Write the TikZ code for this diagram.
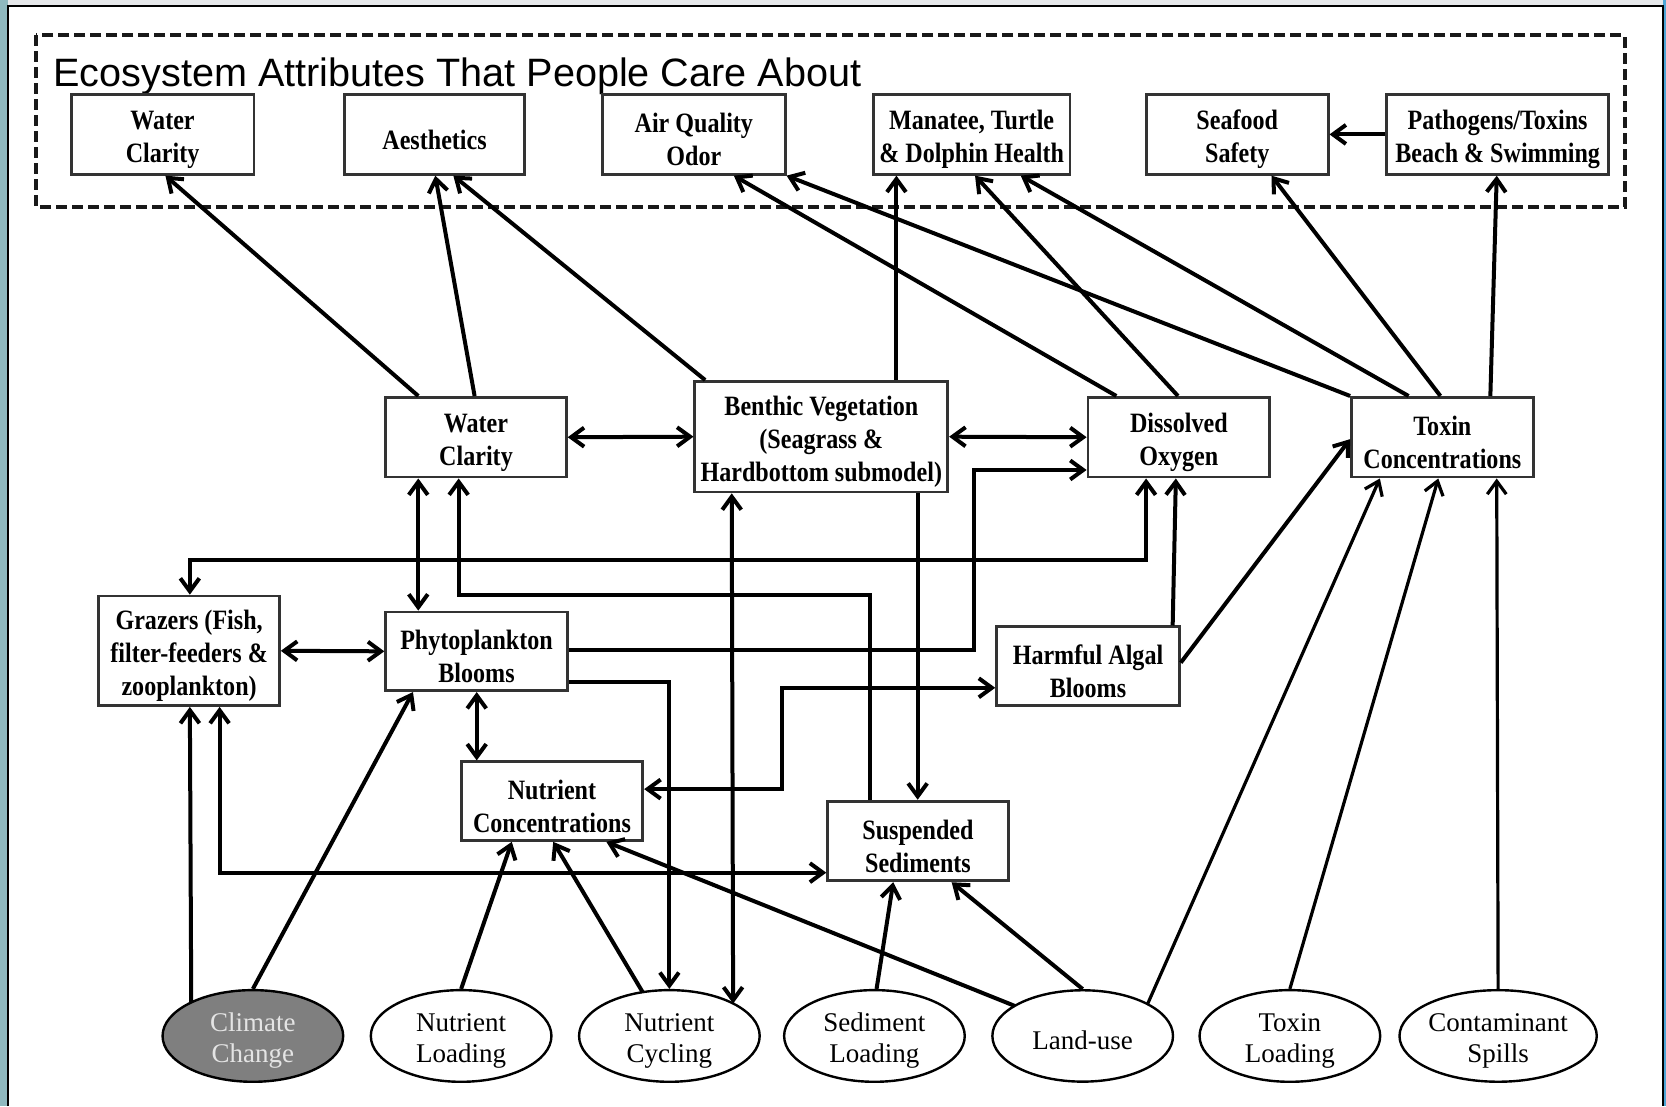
\documentclass[tikz,border=0pt]{standalone}
\usepackage{fontspec}
\setmainfont{Liberation Serif}
\newfontfamily\boxfont[FakeStretch=0.86]{Liberation Serif}
\newfontfamily\titlefont{Liberation Sans}
\usetikzlibrary{shapes.geometric,arrows.meta,calc}
\newcommand\uu{0.53125pt}
\newcommand\mybox[6]{\node[attrbox, minimum width={(#4-#2)*\uu}, minimum height={(#5-#3)*\uu}] (#1) at ({(#2+#4)/2},{(#3+#5)/2}) {\rule{0pt}{15pt}#6};}
\newcommand\myell[4]{\node[ell,#4] (#1) at (#2,975) {\rule{0pt}{14pt}#3};}
\definecolor{boxline}{HTML}{333333}
\definecolor{leftstrip}{HTML}{8FB9BF}
\definecolor{rightstrip}{HTML}{4FA6D6}
\definecolor{topstrip}{HTML}{E6E8EA}
\definecolor{climfill}{HTML}{7F7F7F}
\definecolor{climtext}{HTML}{E4E4E4}
\tikzset{
  attrbox/.style={draw=boxline, line width=1.4pt, fill=white, inner sep=1pt, align=center,
    font=\boxfont\bfseries\fontsize{14}{16.5}\selectfont},
  ell/.style={ellipse, draw=black, line width=1.2pt, fill=white, inner sep=0pt, align=center,
    minimum width={170*\uu}, minimum height={86*\uu},
    font=\fontsize{13.5}{15.5}\selectfont},
  conn/.style={line width=2pt, line join=miter},
  thinconn/.style={line width=1.6pt},
  >={Straight Barb[length=6.5pt,width=9.5pt]}
}
\begin{document}
\begin{tikzpicture}[x=\uu, y=-\uu]
\useasboundingbox (0,0) rectangle (1568,1041);
% background
\fill[topstrip] (0,0) rectangle (1568,6);
\fill[leftstrip] (0,0) rectangle (7.5,1041);
\fill[rightstrip] (1565,0) rectangle (1568,1041);
\fill[white] (7.5,5.6) rectangle (1565,1041);
\draw[line width=1.3pt] (7.5,1041) -- (7.5,5.6) -- (1565,5.6) -- (1565,1041);
% attributes frame
\draw[line width=2pt, dash pattern=on 5.5pt off 2.5pt, draw=black!90] (34,33) rectangle (1529,195);
\node[anchor=base west, inner sep=0pt, font=\titlefont\fontsize{19.8}{24}\selectfont] (title) at (50,81) {Ecosystem Attributes That People Care About};
% top boxes
\mybox{t1}{67}{89}{239}{164}{Water\\Clarity}
\mybox{t2}{324}{89}{494}{164}{Aesthetics}
\mybox{t3}{567}{89}{739}{164}{Air Quality\\Odor}
\mybox{t4}{822}{89}{1007}{164}{Manatee, Turtle\\\& Dolphin Health}
\mybox{t5}{1079}{89}{1250}{164}{Seafood\\Safety}
\mybox{t6}{1305}{89}{1514}{164}{Pathogens/Toxins\\Beach \& Swimming}
% middle boxes
\mybox{m1}{363}{374}{533}{449}{Water\\Clarity}
\mybox{m2}{654}{359}{892}{463}{Benthic Vegetation\\(Seagrass \&\\Hardbottom submodel)}
\mybox{m3}{1024}{374}{1195}{449}{Dissolved\\Oxygen}
\mybox{m4}{1272}{374}{1443}{449}{Toxin\\Concentrations}
% lower boxes
\mybox{g}{93}{561}{263}{664}{Grazers (Fish,\\filter-feeders \&\\zooplankton)}
\mybox{p}{363}{576}{534}{650}{Phytoplankton\\Blooms}
\mybox{h}{938}{590}{1110}{664}{Harmful Algal\\Blooms}
\mybox{n}{434}{717}{605}{791}{Nutrient\\Concentrations}
\mybox{s}{779}{754}{949}{829}{Suspended\\Sediments}
% drivers
\myell{e1}{238}{Climate\\Change}{fill=climfill, text=climtext}
\myell{e2}{434}{Nutrient\\Loading}{}
\myell{e3}{630}{Nutrient\\Cycling}{}
\myell{e4}{823}{Sediment\\Loading}{}
\myell{e5}{1019}{Land-use}{}
\myell{e6}{1214}{Toxin\\Loading}{}
\myell{e7}{1410}{Contaminant\\Spills}{}
% connectors to attributes
\draw[conn,->] ($(m1.north west)+(32,0)$) -- ($(t1.south west)+(90,0)$);
\draw[conn,->] ($(m1.north west)+(85,0)$) -- ($(t2.south west)+(87,0)$);
\draw[conn,->] ($(m2.north west)+(11,0)$) -- ($(t2.south west)+(104,0)$);
\draw[conn,->] ($(m3.north west)+(28,0)$) -- ($(t3.south west)+(125,0)$);
\draw[conn,->] (m4.north west) -- (t3.south east);
\draw[conn,->] ($(m2.north west)+(191,0)$) -- ($(t4.south west)+(23,0)$);
\draw[conn,->] ($(m3.north west)+(86,0)$) -- ($(t4.south west)+(97,0)$);
\draw[conn,->] ($(m4.north west)+(55,0)$) -- ($(t4.south west)+(140,0)$);
\draw[conn,->] ($(m4.north west)+(85,0)$) -- ($(t5.south west)+(119,0)$);
\draw[conn,->] ($(m4.north west)+(132,0)$) -- ($(t6.south west)+(105,0)$);
\draw[conn,->] (t6.west) -- (t5.east);
% middle links
\draw[conn,<->] (m1.east) -- (m2.west);
\draw[conn,<->] (m2.east) -- (m3.west);
\draw[conn,->] ($(p.north east)+(0,37)$) -| ($(m3.south west)+(-106,-8)$) -- ($(m3.south west)+(0,-8)$);
\draw[conn,<->] ($(m1.south west)+(32,0)$) -- ($(p.north west)+(32,0)$);
\draw[conn,->] ($(s.north west)+(41,0)$) |- ($(m1.south west)+(70,110)$) -- ($(m1.south west)+(70,0)$);
\draw[conn,<->] ($(g.north west)+(87,0)$) |- ($(m3.south west)+(56,77)$) -- ($(m3.south west)+(56,0)$);
\draw[conn,->] ($(h.north west)+(167,0)$) -- ($(m3.south west)+(84,0)$);
\draw[conn,->] ($(h.north east)+(0,35)$) -- ($(m4.south west)+(0,-37)$);
\draw[conn,<->] (g.east) -- (p.west);
\draw[conn,<->] ($(p.south west)+(87,0)$) -- ($(n.north west)+(16,0)$);
\draw[conn,->] ($(p.north east)+(0,67)$) -| (e3.north);
\draw[conn,<->] ($(m2.south west)+(36,0)$) -- ($(e3.center)+(60,-30.5)$);
\draw[conn,->] ($(m2.south west)+(211,0)$) -- ($(s.north west)+(86,0)$);
\draw[conn,<->] ($(n.north east)+(0,27)$) -| ($(h.south west)+(-201,-18)$) -- ($(h.south west)+(0,-18)$);
\draw[conn,<->] ($(g.south west)+(115,0)$) |- ($(s.south west)+(0,-9)$);
% driver links
\draw[conn,->] ($(e1.center)+(-58,-31.4)$) -- ($(g.south west)+(87,0)$);
\draw[conn,->] (e1.north) -- ($(p.south west)+(27,0)$);
\draw[conn,->] (e2.north) -- ($(n.south west)+(49,0)$);
\draw[conn,->] ($(e3.center)+(-25,-41)$) -- ($(n.south west)+(88,0)$);
\draw[conn,->] ($(e5.center)+(-64,-28.3)$) -- ($(n.south west)+(138,0)$);
\draw[conn,->] ($(e4.north)+(2,0)$) -- ($(s.south west)+(63,0)$);
\draw[conn,->] (e5.north) -- ($(s.south west)+(118,0)$);
\draw[thinconn,->] ($(e5.center)+(61,-29.9)$) -- ($(m4.south west)+(28,0)$);
\draw[thinconn,->] (e6.north) -- ($(m4.south west)+(83,0)$);
\draw[thinconn,->] (e7.north) -- ($(m4.south west)+(138,0)$);
\end{tikzpicture}
\end{document}
